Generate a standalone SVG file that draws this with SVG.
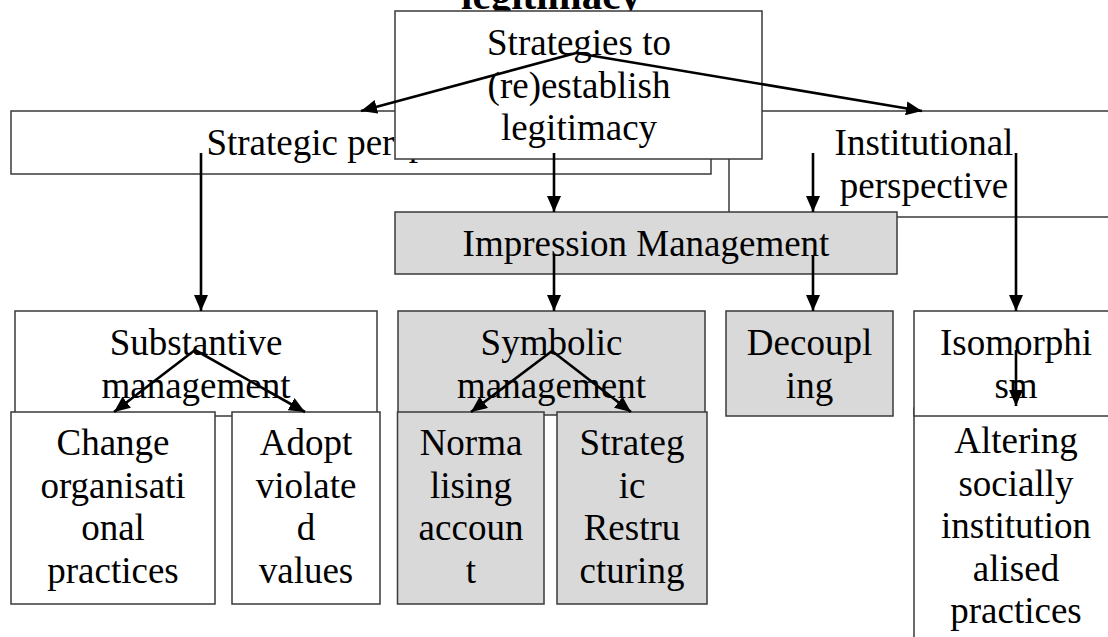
<svg xmlns="http://www.w3.org/2000/svg" width="1108" height="637" viewBox="0 0 1108 637">
<defs>
<style>
.box{fill:#ffffff;stroke:#3a3a3a;stroke-width:1.5}
.gray{fill:#d9d9d9;stroke:#3a3a3a;stroke-width:1.5}
.t{font-family:"Liberation Serif","Times New Roman",serif;font-size:37px;fill:#000;text-anchor:middle}
.title{font-family:"Liberation Serif","Times New Roman",serif;font-size:41px;font-weight:bold;fill:#000;text-anchor:middle}
.c{stroke:#000;stroke-width:2.6;fill:none;marker-end:url(#ah)}
</style>
<marker id="ah" markerUnits="userSpaceOnUse" markerWidth="17" markerHeight="14" refX="16" refY="7" orient="auto">
<path d="M0,0 L16,7 L0,14 z" fill="#000"/>
</marker>
</defs>
<rect width="1108" height="637" fill="#ffffff"/>
<text class="title" x="551" y="9">legitimacy</text>

<g id="strategic">
<rect class="box" x="11" y="111" width="700" height="63"/>
<text class="t" x="361" y="155">Strategic perspective</text>
</g>
<g id="institutional">
<rect class="box" x="729" y="111" width="390" height="106"/>
<text class="t" x="924" y="155">Institutional</text>
<text class="t" x="924" y="197.6">perspective</text>
</g>
<g id="top">
<rect class="box" x="395" y="11" width="367" height="148"/>
<text class="t" x="579" y="55">Strategies to</text>
<text class="t" x="579" y="97.6">(re)establish</text>
<text class="t" x="579" y="140.2">legitimacy</text>
</g>
<g id="impression">
<rect class="gray" x="395" y="212" width="502" height="62"/>
<text class="t" x="646" y="256">Impression Management</text>
</g>
<g id="substantive">
<rect class="box" x="15" y="311" width="362" height="105"/>
<text class="t" x="196" y="355">Substantive</text>
<text class="t" x="196" y="397.6">management</text>
</g>
<g id="symbolic">
<rect class="gray" x="398" y="311" width="307" height="104"/>
<text class="t" x="551.5" y="355">Symbolic</text>
<text class="t" x="551.5" y="397.6">management</text>
</g>
<g id="decoupling">
<rect class="gray" x="726" y="311" width="167" height="105"/>
<text class="t" x="809.5" y="355">Decoupl</text>
<text class="t" x="809.5" y="397.6">ing</text>
</g>
<g id="altering">
<rect class="box" x="914" y="408" width="205" height="240"/>
<text class="t" x="1016" y="453">Altering</text>
<text class="t" x="1016" y="495.6">socially</text>
<text class="t" x="1016" y="538.2">institution</text>
<text class="t" x="1016" y="580.8">alised</text>
<text class="t" x="1016" y="623.4">practices</text>
</g>
<g id="isomorphism">
<rect class="box" x="914" y="311" width="205" height="105"/>
<text class="t" x="1016" y="355">Isomorphi</text>
<text class="t" x="1016" y="397.6">sm</text>
</g>
<g id="change">
<rect class="box" x="11" y="412" width="204" height="192"/>
<text class="t" x="113" y="455">Change</text>
<text class="t" x="113" y="497.6">organisati</text>
<text class="t" x="113" y="540.2">onal</text>
<text class="t" x="113" y="582.8">practices</text>
</g>
<g id="adopt">
<rect class="box" x="232" y="412" width="148" height="192"/>
<text class="t" x="306" y="455">Adopt</text>
<text class="t" x="306" y="497.6">violate</text>
<text class="t" x="306" y="540.2">d</text>
<text class="t" x="306" y="582.8">values</text>
</g>
<g id="normalising">
<rect class="gray" x="397.5" y="412" width="146.5" height="192"/>
<text class="t" x="471" y="455">Norma</text>
<text class="t" x="471" y="497.6">lising</text>
<text class="t" x="471" y="540.2">accoun</text>
<text class="t" x="471" y="582.8">t</text>
</g>
<g id="restructuring">
<rect class="gray" x="557" y="412" width="150" height="192"/>
<text class="t" x="632" y="455">Strateg</text>
<text class="t" x="632" y="497.6">ic</text>
<text class="t" x="632" y="540.2">Restru</text>
<text class="t" x="632" y="582.8">cturing</text>
</g>

<g id="connectors">
<line class="c" x1="576" y1="53" x2="361" y2="111"/>
<line class="c" x1="576" y1="53" x2="922" y2="111"/>
<line class="c" x1="554" y1="153" x2="554" y2="212"/>
<line class="c" x1="201" y1="153" x2="201" y2="311"/>
<line class="c" x1="813" y1="153" x2="813" y2="212"/>
<line class="c" x1="1016" y1="153" x2="1016" y2="311"/>
<line class="c" x1="554" y1="255" x2="554" y2="311"/>
<line class="c" x1="813" y1="255" x2="813" y2="311"/>
<line class="c" x1="195" y1="350" x2="114" y2="412"/>
<line class="c" x1="195" y1="350" x2="305" y2="412"/>
<line class="c" x1="552" y1="351" x2="471" y2="412"/>
<line class="c" x1="552" y1="351" x2="631" y2="412"/>
<line class="c" x1="1016" y1="350" x2="1016" y2="406"/>
</g>
</svg>
